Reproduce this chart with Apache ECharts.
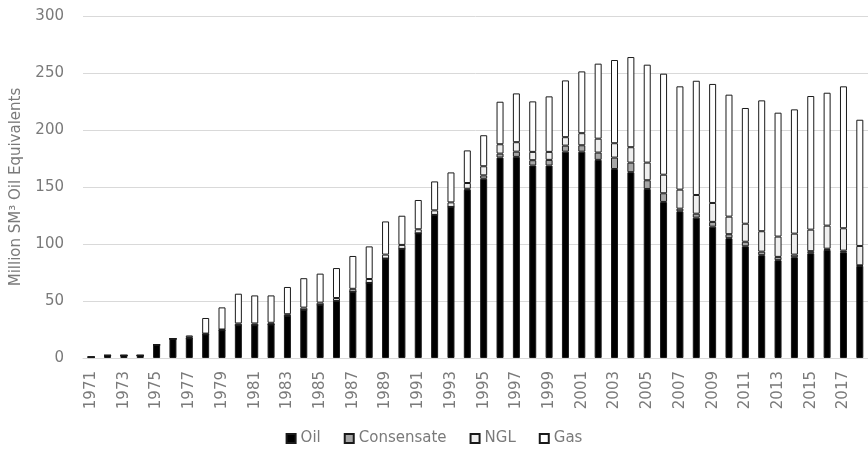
<!DOCTYPE html>
<html lang="en">
<head>
    <meta charset="UTF-8">
    <title>Production by product</title>
    <script src="https://cdn.jsdelivr.net/npm/echarts@6/dist/echarts.min.js"></script>
    <style>
        html, body { margin: 0; padding: 0; background: #fff; }
        #chart { width: 868px; height: 455px; }
    </style>
</head>
<body>
    <div id="chart"></div>

    <script>
        // years 1971 - 2018
        const years = [];
        for (let y = 1971; y <= 2018; y++) years.push(String(y));

        // values (million Sm3 o.e.)
        const oil = [
            0.8, 2.3, 2.3, 2.3, 11.5, 16.8, 17.3, 20.8, 24.4, 28.8,
            28.8, 29.4, 36.9, 42.2, 46.6, 50.1, 58.2, 65.8, 87.2, 95.7,
            109.4, 125.5, 132.5, 147.7, 157.2, 175.8, 176.4, 168.8, 168.8, 181,
            181, 173.8, 165.8, 163, 148.3, 136.9, 128.7, 123.1, 115.2, 105.1,
            98, 90.2, 85.8, 88.4, 91.9, 94.8, 92.8, 80.8
        ];
        const consensate = [
            0, 0, 0, 0, 0, 0, 0, 0, 0, 0,
            0, 0, 0, 0, 0, 0, 0, 0, 0, 0,
            0, 0, 0, 0.8, 3, 3.5, 4.6, 4.7, 5, 5.3,
            5.6, 6.4, 10, 8.4, 7.6, 7.6, 2.3, 3.5, 4.2, 3.5,
            4, 3.1, 2.9, 2.3, 1.8, 1.1, 1.4, 0.5
        ];
        const ngl = [
            0, 0, 0, 0, 0, 0, 0.8, 0.6, 0.6, 1.5,
            1.5, 1.5, 1.5, 2, 2, 2.5, 2.5, 3.5, 3.5, 3.5,
            3.5, 4, 4, 5, 8, 8.2, 8.3, 7.3, 7, 7.4,
            10.6, 12.2, 12.6, 13.5, 15.5, 16.3, 16.7, 16.4, 16.6, 15.4,
            15.8, 17.9, 17.8, 18.4, 18.9, 20.2, 19.6, 17
        ];
        const gas = [
            0, 0, 0, 0, 0, 0, 1.7, 13.7, 19.4, 26.1,
            24.6, 24, 23.9, 25.8, 25.4, 26.3, 28.8, 28.6, 29.1, 25.6,
            25.7, 25.4, 26.3, 28.6, 27.2, 37.3, 42.8, 44.3, 48.7, 49.8,
            54.2, 65.8, 73, 79.1, 85.9, 88.6, 90.6, 100.2, 104.4, 107,
            101.5, 114.8, 108.7, 109, 117.2, 116.6, 124.5, 110.7
        ];

        const seriesNames = ['Oil', 'Consensate', 'NGL', 'Gas'];
        const seriesColors = ['#000000', '#a6a6a6', '#efefef', '#ffffff'];
        const seriesData = [oil, consensate, ngl, gas];

        const textColor = '#7a7a7a';
        const fontFamily = 'DejaVu Sans';

        const chart = echarts.init(document.getElementById('chart'));

        chart.setOption({
            animation: false,
            textStyle: { fontFamily: fontFamily },
            grid: { left: 83, right: -5, top: 16, bottom: 97, containLabel: false },
            legend: {
                data: seriesNames,
                bottom: 4,
                left: 'center',
                itemWidth: 9,
                itemHeight: 9,
                itemGap: 23,
                icon: 'rect',
                textStyle: { color: textColor, fontSize: 15, fontFamily: fontFamily }
            },
            xAxis: {
                type: 'category',
                data: years,
                axisLine: { lineStyle: { color: '#d9d9d9', width: 1 } },
                axisTick: { show: false },
                axisLabel: {
                    interval: 1,
                    rotate: 90,
                    margin: 13,
                    color: textColor,
                    fontSize: 15,
                    fontFamily: fontFamily
                }
            },
            yAxis: {
                type: 'value',
                min: 0,
                max: 300,
                interval: 50,
                name: 'Million SM³ Oil Equivalents',
                nameLocation: 'middle',
                nameRotate: 90,
                nameGap: 59,
                nameTextStyle: { color: textColor, fontSize: 15, fontFamily: fontFamily },
                axisLine: { show: false },
                axisTick: { show: false },
                axisLabel: { margin: 19, color: textColor, fontSize: 15, fontFamily: fontFamily },
                splitLine: { lineStyle: { color: '#d9d9d9', width: 1 } }
            },
            series: seriesNames.map((name, i) => ({
                name: name,
                type: 'bar',
                stack: 'total',
                barWidth: 7,
                data: seriesData[i],
                itemStyle: {
                    color: seriesColors[i],
                    borderColor: '#1a1a1a',
                    borderWidth: 1
                }
            }))
        });
    </script>
</body>
</html>
